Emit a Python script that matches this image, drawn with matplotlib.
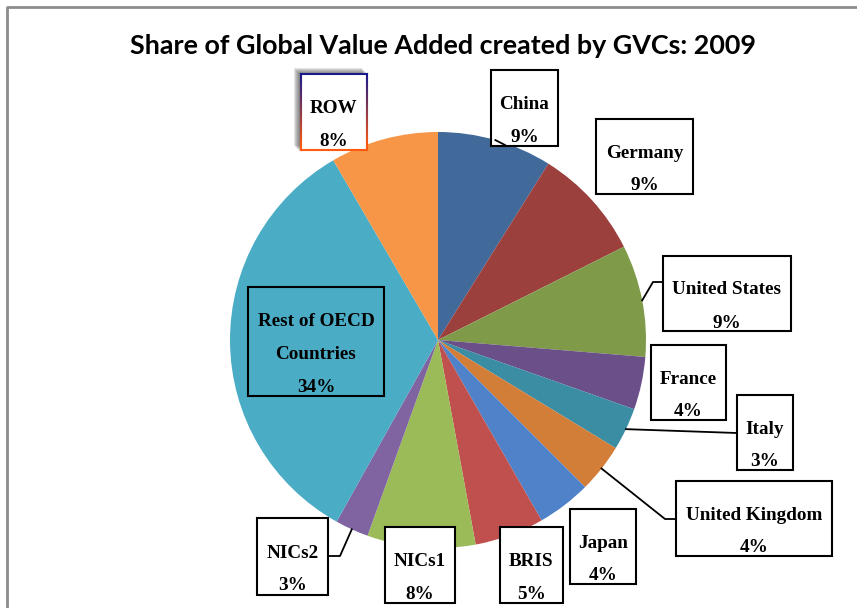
import numpy as np
import matplotlib.pyplot as plt
from matplotlib.patches import Rectangle

# data
regions = ["China", "Germany", "United States", "France", "Italy", "United Kingdom",
           "Japan", "BRIS", "NICs1", "NICs2", "Rest of OECD\nCountries", "ROW"]
shares = [8.9, 8.7, 8.7, 4.1, 3.3, 3.8, 4.2, 5.4, 8.4, 2.6, 33.5, 8.4]
colors = ["#41699A", "#9C403D", "#7F9A49", "#6A4F88", "#3B8DA4", "#D27D38",
          "#4F82C8", "#C0504D", "#9BBB59", "#8064A2", "#4BACC6", "#F79646"]

# label boxes (x0, y0, x1, y1) in pixels, y going down
boxes = [(491, 70, 558, 146), (596, 119, 693, 194), (663, 256, 791, 331),
         (651, 345, 726, 420), (737, 395, 793, 470), (676, 481, 832, 556),
         (570, 509, 636, 584), (500, 527, 563, 603), (385, 527, 455, 603),
         (257, 518, 328, 595), (248, 287, 384, 396), (301, 74, 367, 150)]
# leader lines: index -> elbow points after the wedge edge
leaders = {0: [(505, 145)],
           2: [(653, 282), (663, 282)],
           4: [(737, 433)],
           5: [(665, 519), (676, 519)],
           9: [(340, 556), (328, 556)]}

W, H = 857, 608
fig = plt.figure(figsize=(W / 100, H / 100), dpi=100)
ax = fig.add_axes([0, 0, 1, 1])

cx, cy, r = 438, 340, 208
wedges, _ = ax.pie(shares, colors=colors, startangle=-90, counterclock=True,
                   center=(cx, cy), radius=r, frame=True,
                   wedgeprops=dict(linewidth=0))
ax.set_xlim(0, W)
ax.set_ylim(H, 0)
ax.set_aspect("equal")
ax.axis("off")

# chart frame
ax.plot([7, 7, W + 5], [H + 5, 7, 7], color="#8c8c8c", lw=2, clip_on=False)

ax.text(443, 46, "Share of Global Value Added created by GVCs: 2009",
        ha="center", va="center", fontsize=19.4, fontweight="bold", family="Lato")

for i, (name, val, wdg) in enumerate(zip(regions, shares, wedges)):
    x0, y0, x1, y1 = boxes[i]
    if i == 11:
        # shadowed box with gradient border
        for k in range(6):
            ax.add_patch(Rectangle((x0 - 7 + k, y0 - 6 + k), x1 - x0 + 2, y1 - y0 + 2,
                                   facecolor="#444444", edgecolor="none", alpha=0.15,
                                   zorder=3))
        ax.add_patch(Rectangle((x0, y0), x1 - x0, y1 - y0, facecolor="white",
                               edgecolor="none", zorder=4))
        ax.plot([x0, x1], [y0, y0], color="#1a1a8c", lw=1.5, zorder=5)
        ax.plot([x0, x1], [y1, y1], color="#ff5a10", lw=1.5, zorder=5)
        for xx in (x0, x1):
            ys = np.linspace(y0, y1, 20)
            for k in range(19):
                t = k / 18
                c = (0.1 + 0.9 * t, 0.1 + 0.25 * t, 0.55 - 0.5 * t)
                ax.plot([xx, xx], [ys[k], ys[k + 1]], color=c, lw=1.5, zorder=5)
    elif i == 10:
        ax.add_patch(Rectangle((x0, y0), x1 - x0, y1 - y0, facecolor="none",
                               edgecolor="black", lw=1.5, zorder=4))
    else:
        ax.add_patch(Rectangle((x0, y0), x1 - x0, y1 - y0, facecolor="white",
                               edgecolor="black", lw=1.5, zorder=4))
    lines = name.split("\n") + ["%d%%" % round(val)]
    n = len(lines)
    step = 33
    ymid = (y0 + y1) / 2
    for j, s in enumerate(lines):
        ax.text((x0 + x1) / 2, ymid + (j - (n - 1) / 2) * step + 13, s,
                ha="center", va="center", fontsize=13.8, fontweight="bold",
                family="Liberation Serif", zorder=6)
    if i in leaders:
        mid = np.deg2rad((wdg.theta1 + wdg.theta2) / 2)
        pts = [(cx + r * np.cos(mid), cy + r * np.sin(mid))] + leaders[i]
        xs, ys = zip(*pts)
        ax.plot(xs, ys, color="black", lw=1.3, zorder=5)

fig.savefig("out.png", dpi=100)
